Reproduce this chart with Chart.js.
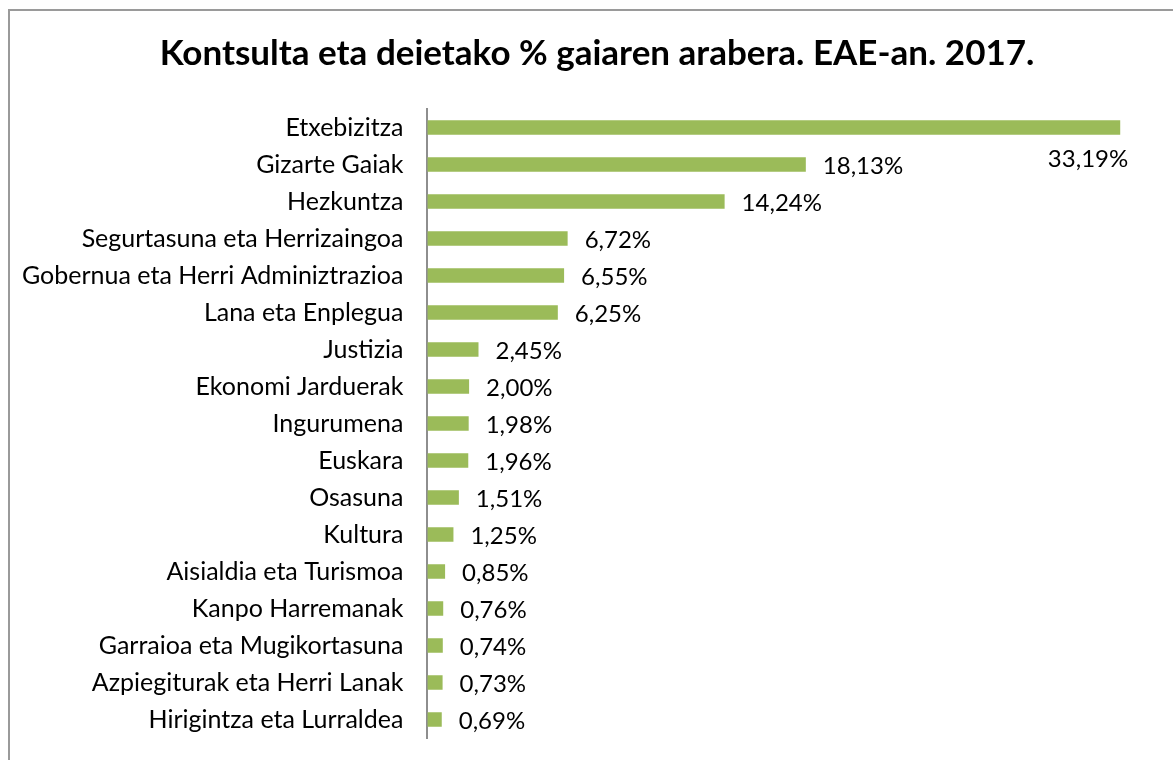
<!DOCTYPE html>
<html>
<head>
<meta charset="utf-8">
<script src="https://cdn.jsdelivr.net/npm/chart.js@4.4.0/dist/chart.umd.min.js"></script>
<style>
  html, body { margin: 0; padding: 0; overflow: hidden; background: #fff; }
  #frame { position: absolute; left: 8px; top: 9px; width: 1300px; height: 900px; border: 2px solid #9a9a9a; }
  #wrap { position: absolute; left: 0; top: 0; width: 1173px; height: 760px; }
</style>
</head>
<body>
<div id="frame"></div>
<div id="wrap"><canvas id="chart"></canvas></div>
<script>
// categories and values (%)
const labels = [
  'Etxebizitza', 'Gizarte Gaiak', 'Hezkuntza', 'Segurtasuna eta Herrizaingoa',
  'Gobernua eta Herri Adminiztrazioa', 'Lana eta Enplegua', 'Justizia',
  'Ekonomi Jarduerak', 'Ingurumena', 'Euskara', 'Osasuna', 'Kultura',
  'Aisialdia eta Turismoa', 'Kanpo Harremanak', 'Garraioa eta Mugikortasuna',
  'Azpiegiturak eta Herri Lanak', 'Hirigintza eta Lurraldea'
];
const values = [33.19, 18.13, 14.24, 6.72, 6.55, 6.25, 2.45, 2.00, 1.98, 1.96, 1.51, 1.25, 0.85, 0.76, 0.74, 0.73, 0.69];
const title = 'Kontsulta eta deietako % gaiaren arabera. EAE-an. 2017.';

const FONT = "Lato, sans-serif";
const fmt = v => v.toFixed(2).replace('.', ',') + '%';

// title drawn by hand so it sits where Excel put it (a bit right of centre)
const titlePlugin = {
  id: 'titleText',
  afterDraw(chart) {
    const ctx = chart.ctx;
    ctx.save();
    ctx.font = 'bold 35px ' + FONT;
    ctx.fillStyle = '#000';
    ctx.textAlign = 'center';
    ctx.textBaseline = 'middle';
    ctx.fillText(title, 597, 54);
    ctx.restore();
  }
};

// value labels to the right of each bar, below it when there is no room
const valueLabels = {
  id: 'valueLabels',
  afterDatasetsDraw(chart) {
    const ctx = chart.ctx;
    const meta = chart.getDatasetMeta(0);
    ctx.save();
    ctx.font = '24px ' + FONT;
    ctx.fillStyle = '#000';
    ctx.textBaseline = 'middle';
    meta.data.forEach((bar, i) => {
      const txt = fmt(values[i]);
      const w = ctx.measureText(txt).width;
      if (bar.x + 17 + w > chart.chartArea.right) {
        ctx.textAlign = 'right';
        ctx.fillText(txt, bar.x + 8, bar.y + 32);
      } else {
        ctx.textAlign = 'left';
        ctx.fillText(txt, bar.x + 17, bar.y + 2);
      }
    });
    ctx.restore();
  }
};

new Chart(document.getElementById('chart'), {
  type: 'bar',
  data: {
    labels: labels,
    datasets: [{
      data: values,
      backgroundColor: '#9bbb59',
      borderWidth: 0,
      barPercentage: 0.39,
      categoryPercentage: 1
    }]
  },
  options: {
    indexAxis: 'y',
    responsive: true,
    maintainAspectRatio: false,
    animation: false,
    layout: { padding: { left: -2, right: 15, top: 109, bottom: 22 } },
    plugins: {
      legend: { display: false },
      tooltip: { enabled: false },
      title: { display: false }
    },
    scales: {
      x: { display: false, min: 0, max: 35 },
      y: {
        grid: { display: false, drawTicks: false },
        border: { display: true, color: '#8e8e8e', width: 2 },
        ticks: { color: '#000', padding: 24, font: { family: FONT, size: 25 } },
        afterFit(scale) { scale.paddingTop = 0; scale.paddingBottom = 0; }
      }
    }
  },
  plugins: [valueLabels, titlePlugin]
});
</script>
</body>
</html>
